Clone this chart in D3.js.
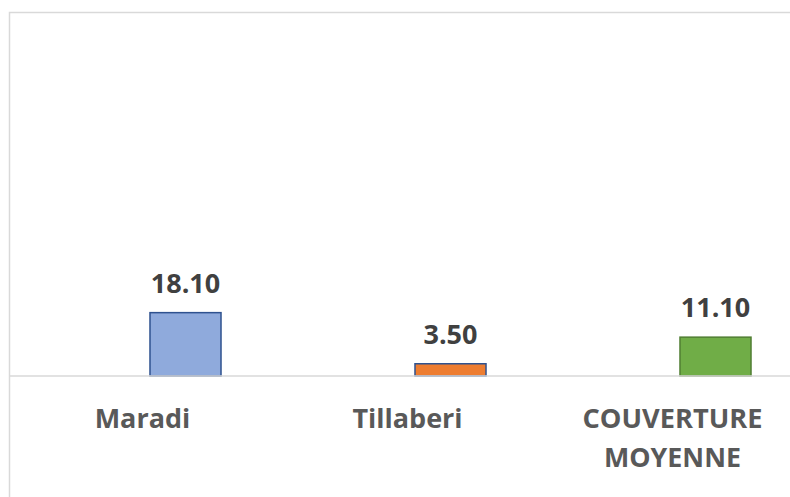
<!DOCTYPE html>
<html><head><meta charset="utf-8">
<script src="https://cdn.jsdelivr.net/npm/d3@7"></script>
<style>body{margin:0;background:#fff}svg{display:block}</style>
</head><body>
<script>
const categories = ["Maradi", "Tillaberi", "COUVERTURE MOYENNE"];
const values = [18.10, 3.50, 11.10];
const fills = ["#8FAADC", "#ED7D31", "#70AD47"];
const strokes = ["#2F528F", "#2F528F", "#507E32"];

const W = 790, H = 497;
const svg = d3.select("body").append("svg").attr("width", W).attr("height", H);
svg.append("rect").attr("x", 9.5).attr("y", 12.5).attr("width", 820).attr("height", 520)
  .attr("fill", "#fff").attr("stroke", "#d9d9d9").attr("stroke-width", 1.5);

const x = d3.scaleBand().domain(categories).range([53, 848]).paddingInner(0.732).paddingOuter(0.366);
const y = d3.scaleLinear().domain([0, 100]).range([376, 26]);
const labelShift = -43;

svg.selectAll("rect.bar").data(values).join("rect").attr("class", "bar")
  .attr("x", (d, i) => x(categories[i]))
  .attr("y", d => y(d))
  .attr("width", x.bandwidth())
  .attr("height", d => y(0) - y(d))
  .attr("fill", (d, i) => fills[i])
  .attr("stroke", (d, i) => strokes[i]).attr("stroke-width", 1.5);

svg.append("line").attr("x1", 9).attr("x2", W).attr("y1", y(0)).attr("y2", y(0))
  .attr("stroke", "#d9d9d9").attr("stroke-width", 1.5);

svg.selectAll("text.val").data(values).join("text").attr("class", "val")
  .attr("x", (d, i) => x(categories[i]) + x.bandwidth() / 2)
  .attr("y", d => y(d) - 20)
  .attr("text-anchor", "middle")
  .attr("font-family", "Open Sans, sans-serif").attr("font-weight", 700).attr("font-size", 27)
  .attr("fill", "#404040")
  .text(d => d.toFixed(2));

const lab = svg.selectAll("text.cat").data(categories).join("text").attr("class", "cat")
  .attr("x", d => x(d) + x.bandwidth() / 2 + labelShift)
  .attr("y", 428)
  .attr("text-anchor", "middle")
  .attr("font-family", "Open Sans, sans-serif").attr("font-weight", 700).attr("font-size", 27)
  .attr("fill", "#595959");
lab.each(function(d) {
  const words = d === "COUVERTURE MOYENNE" ? ["COUVERTURE", "MOYENNE"] : [d];
  const widths = d === "COUVERTURE MOYENNE" ? [180, 137] : [null];
  const t = d3.select(this);
  words.forEach((w, k) => {
    const ts = t.append("tspan").attr("x", x(d) + x.bandwidth() / 2 + labelShift).attr("dy", k ? 39 : 0).text(w);
    if (widths[k]) ts.attr("textLength", widths[k]).attr("lengthAdjust", "spacingAndGlyphs");
  });
});
</script>
</body></html>
